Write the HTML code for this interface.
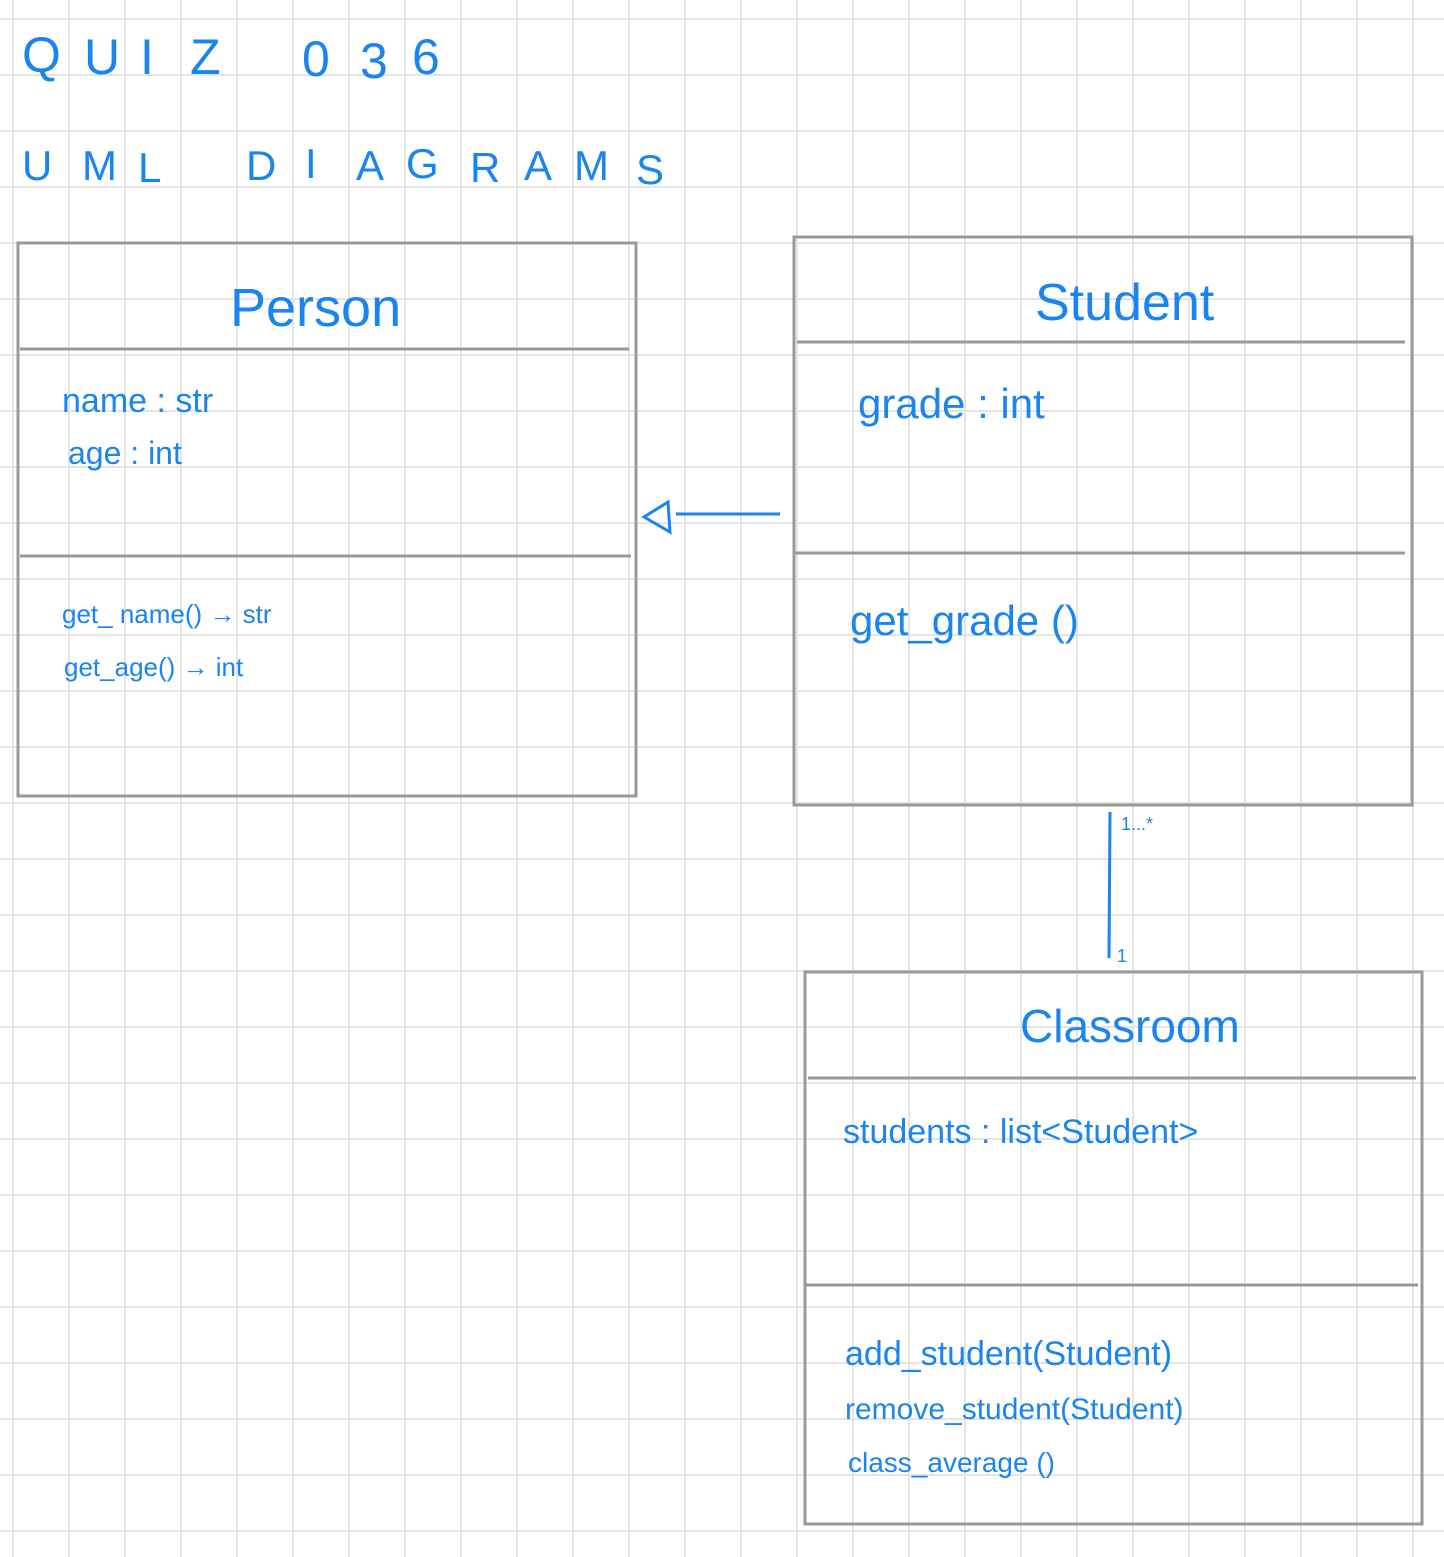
<!DOCTYPE html>
<html><head><meta charset="utf-8"><style>
html,body{margin:0;padding:0;}
body{width:1444px;height:1557px;overflow:hidden;background:#fff;
background-image:linear-gradient(to right,#e4e4e4 2px,transparent 2px),linear-gradient(to bottom,#e4e4e4 2px,transparent 2px);
background-size:56px 56px;background-position:12px 18px;}
svg{position:absolute;left:0;top:0}
text{font-family:"Liberation Sans",sans-serif;fill:#1a84f0;}
</style></head><body>
<svg width="1444" height="1557" viewBox="0 0 1444 1557">
<g font-size="50" font-weight="300">
<text x="22" y="72">Q</text><text x="84" y="74">U</text><text x="140" y="74">I</text><text x="190" y="74">Z</text>
<text x="302" y="76">0</text><text x="360" y="78">3</text><text x="412" y="74">6</text>
</g>
<g font-size="42">
<text x="22" y="180">U</text><text x="82" y="180">M</text><text x="138" y="182">L</text>
<text x="246" y="180">D</text><text x="305" y="178">I</text><text x="356" y="180">A</text><text x="406" y="178">G</text><text x="470" y="182">R</text><text x="524" y="180">A</text><text x="574" y="180">M</text><text x="636" y="184">S</text>
</g>
<g stroke="#999" stroke-width="3" fill="none">
<rect x="18" y="243" width="618" height="553"/>
<line x1="20" y1="349" x2="629" y2="349"/>
<line x1="20" y1="556" x2="631" y2="556"/>
<rect x="794" y="237" width="618" height="568"/>
<line x1="797" y1="342" x2="1405" y2="342"/>
<line x1="795" y1="553" x2="1405" y2="553"/>
<rect x="805" y="972" width="617" height="552"/>
<line x1="808" y1="1078" x2="1416" y2="1078"/>
<line x1="806" y1="1285" x2="1418" y2="1285"/>
</g>
<g stroke="#1a84f0" stroke-width="3" fill="none">
<line x1="676" y1="514" x2="780" y2="514"/>
<path d="M668 502 L644 517 L670 532 Z"/>
<line x1="1110" y1="812" x2="1109" y2="958"/>
</g>
<text x="230" y="326" font-size="54" font-weight="300">Person</text>
<text x="1035" y="320" font-size="52">Student</text>
<text x="1020" y="1042" font-size="46">Classroom</text>
<text x="62" y="412" font-size="34">name :  str</text>
<text x="68" y="464" font-size="32">age    :  int</text>
<text x="62" y="623" font-size="26">get_ name() → str</text>
<text x="64" y="676" font-size="26">get_age() → int</text>
<text x="858" y="418" font-size="42">grade :  int</text>
<text x="850" y="635" font-size="42">get_grade ()</text>
<text x="843" y="1143" font-size="34">students : list&lt;Student&gt;</text>
<text x="845" y="1365" font-size="34">add_student(Student)</text>
<text x="845" y="1419" font-size="30">remove_student(Student)</text>
<text x="848" y="1472" font-size="28">class_average ()</text>
<text x="1121" y="830" font-size="18">1...*</text>
<text x="1117" y="962" font-size="18">1</text>
</svg>
</body></html>
